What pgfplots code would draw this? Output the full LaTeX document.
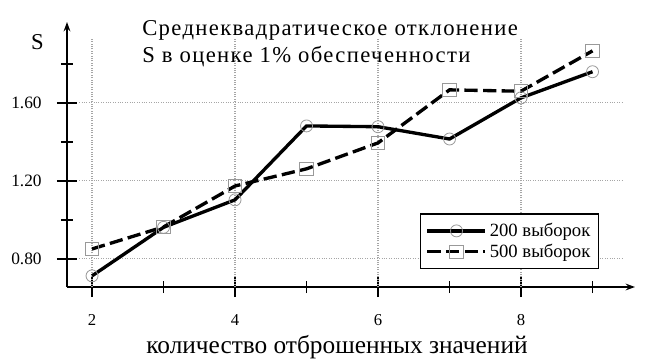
\documentclass[border=0pt]{standalone}
\usepackage{fontspec}
\setmainfont{Liberation Serif}
\usepackage{pgfplots}
\pgfplotsset{compat=1.18}
\usetikzlibrary{arrows.meta}
\begin{document}
\begin{tikzpicture}
\path[use as bounding box] (-50.25pt,-55.5pt) rectangle (437.25pt,215.25pt);
\begin{axis}[
  scale only axis,
  width=426pt, height=198.75pt,
  xmin=1.65, xmax=9.594,
  ymin=0.656, ymax=2.015,
  axis x line=bottom, axis y line=left,
  axis line style={line width=1.3pt, -{Stealth[length=7pt,width=5pt]}},
  xtick={2,4,6,8}, minor xtick={3,5,7,9},
  ytick={0.8,1.2,1.6}, minor ytick={1.0,1.4,1.8},
  tick align=center,
  major tick length=15pt, minor tick length=9pt,
  every tick/.style={black, line width=1.3pt},
  /pgf/number format/assume math mode=true,
  yticklabel style={/pgf/number format/fixed, /pgf/number format/zerofill, /pgf/number format/precision=2, font=\fontsize{13}{15}\selectfont, xshift=-8pt},
  xticklabel style={font=\fontsize{12.5}{14}\selectfont, yshift=-9.5pt},
  legend style={at={(0.937,0.279)}, anchor=north east, draw=black, line width=1.2pt,
    font=\fontsize{14}{15}\selectfont, inner xsep=4pt, inner ysep=5pt, row sep=0pt, cells={anchor=west}},
  legend cell align=left,
  legend image code/.code={\draw[mark repeat=2, mark phase=2] plot coordinates {(0pt,0pt) (21.75pt,0pt) (43.5pt,0pt)};},
  clip=false,
]
\pgfplotsinvokeforeach{2,4,6,8}{
  \draw[gray!70, densely dotted, line width=0.8pt] (axis cs:#1,0.656) -- (axis cs:#1,1.933);
}
\pgfplotsinvokeforeach{0.8,1.2,1.6}{
  \draw[gray!70, densely dotted, line width=0.8pt] (axis cs:1.82,#1) -- (axis cs:9.43,#1);
}
\addplot[black, line width=2.5pt, mark=o, mark size=4.5pt,
  mark options={draw=gray!80, line width=0.6pt, solid}]
  coordinates {(2,0.713) (3,0.962) (4,1.103) (5,1.482) (6,1.478) (7,1.415) (8,1.626) (9,1.760)};
\addlegendentry{200 выборок}
\addplot[black, line width=2.5pt, dash pattern=on 10pt off 4pt, mark=square, mark size=5pt,
  mark options={draw=gray!80, line width=0.6pt, solid}]
  coordinates {(2,0.851) (3,0.964) (4,1.174) (5,1.262) (6,1.395) (7,1.667) (8,1.660) (9,1.867)};
\addlegendentry{500 выборок}
\end{axis}
\node[anchor=base west, font=\fontsize{17}{18}\selectfont\addfontfeatures{LetterSpace=6}, inner sep=0pt] at (56.25pt,189pt) {Среднеквадратическое отклонение};
\node[anchor=base west, font=\fontsize{17}{18}\selectfont\addfontfeatures{LetterSpace=6}, inner sep=0pt] at (56.25pt,168pt) {S в оценке 1\% обеспеченности};
\node[font=\fontsize{17}{18}\selectfont] at (-22.1pt,183.4pt) {S};
\node[anchor=base, font=\fontsize{19}{21}\selectfont, inner sep=0pt] at (202.5pt,-49.5pt) {количество отброшенных значений};
\end{tikzpicture}
\end{document}
